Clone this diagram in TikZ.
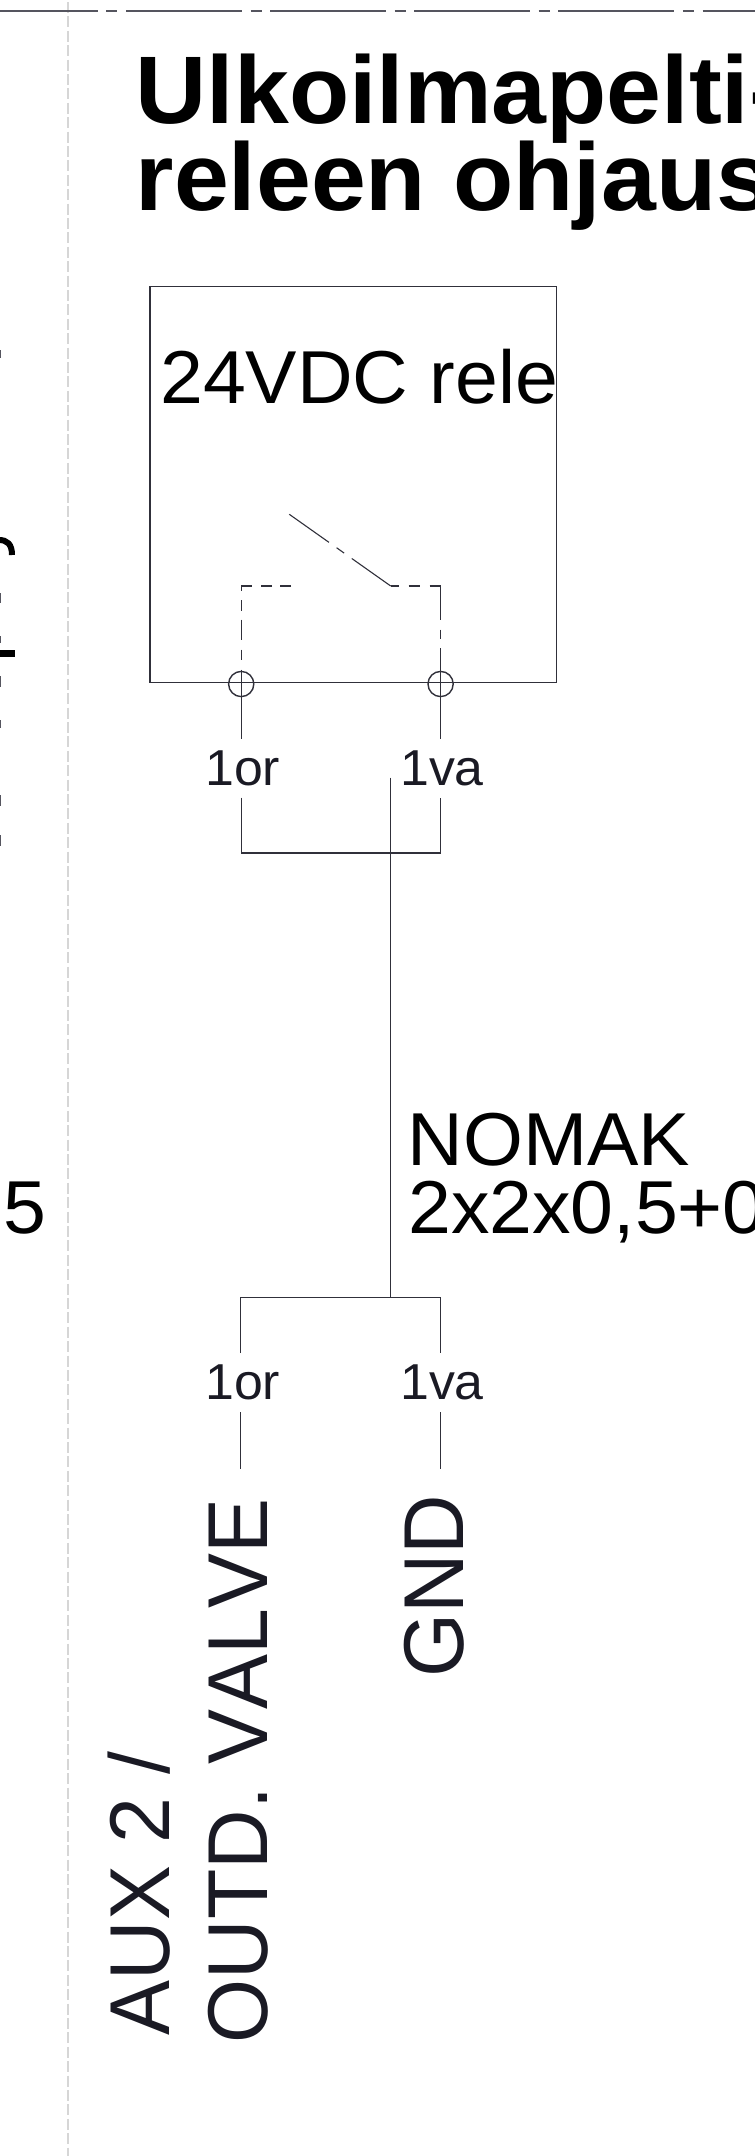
\documentclass[tikz,border=0pt]{standalone}
\usepackage{fontspec}
\setmainfont[Kerning=Off,FakeStretch=1.027]{Liberation Sans}
\newfontfamily\sidefont[Kerning=Off,FakeStretch=0.969]{Liberation Sans}
\definecolor{wire}{HTML}{30303A}
\definecolor{ink}{HTML}{1A1A24}
\definecolor{guide}{HTML}{D6D6D6}
\definecolor{topline}{HTML}{55555F}
\newcommand{\fs}[1]{\fontsize{#1}{#1}\selectfont}
\tikzset{
  x=1pt,y=-1pt,
  wireline/.style={draw=wire,line width=1.3pt},
  thin wire/.style={draw=wire,line width=1.1pt},
  titletext/.style={anchor=base west,inner sep=0pt,text=black,font=\fs{96}\bfseries},
  bigtext/.style={anchor=base west,inner sep=0pt,text=black,font=\fs{75}},
  labeltext/.style={anchor=base west,inner sep=0pt,text=ink,font=\fs{50.5}},
  sidetext/.style={anchor=base west,inner sep=0pt,text=ink,font=\sidefont\fs{85},rotate=90},
  terminal/.style={circle,draw=wire,line width=1.4pt,minimum size=25.2pt,inner sep=0pt},
  clipped/.style={fill=black,draw=none},
}
\begin{document}
\begin{tikzpicture}
\useasboundingbox (0,0) rectangle (755,2156);
\clip (0,0) rectangle (755,2156);
% sheet guides
\coordinate (gT) at (68.2,2);
\coordinate (gB) at (68.2,2156);
\draw[guide,line width=1.8pt,dash pattern=on 11pt off 3.4pt] (gT) -- (gB);
\coordinate (tL) at (-18,10.7);
\coordinate (tR) at (755,10.7);
\draw[topline,line width=1.7pt,dash pattern=on 115.7pt off 8.7pt on 11pt off 8.7pt] (tL) -- (tR);
% clipped neighbour text at the left edge
\fill[clipped] (0,650) rectangle (14.7,657);
\draw[black,line width=6pt] (-1,540) .. controls (7,540) and (12,544) .. (12,555);
\foreach \a/\b in {350/358,593/603,636/643,676/687,720/728,795/806,835/846}
  \fill[topline] (0,\a) rectangle (1.2,\b);
\node[bigtext] (five) at (3.5,1233) {5};
% title
\node[titletext] (title1) at (135.5,123.3) {Ulkoilmapelti-};
\node[titletext] (title2) at (135.5,210.7) {releen ohjaus};
% relay
\node[draw=wire,line width=1.4pt,minimum width=406.7pt,minimum height=396.3pt,inner sep=0pt,anchor=north west] (relay) at (149.3,285.7) {};
\node[bigtext] (relaytxt) at (160,403) {24VDC rele};
\node[terminal] (t1) at (241.2,684) {};
\node[terminal] (t2) at (440.6,684) {};
% switch
\coordinate (armA) at (289.3,514.3);
\coordinate (armB) at (390.7,586);
\coordinate (conL) at (291,586);
\coordinate (cornL) at (241.2,586);
\coordinate (cornR) at (440.6,586);
\coordinate (wL1) at (241.2,739);
\coordinate (wR1) at (440.6,739);
\draw[thin wire,dash pattern=on 48.6pt off 9.3pt on 9.3pt off 9.3pt on 60pt] (armA) -- (armB);
\draw[wireline,dash pattern=on 11pt off 8pt on 11.5pt off 9pt on 15.5pt off 9pt on 10.7pt off 8.6pt on 20.7pt off 9.3pt on 10.7pt off 9.3pt on 100pt off 1pt] (conL) -- (cornL) -- (wL1);
\draw[wireline,dash pattern=on 8.5pt off 9.5pt on 11.5pt off 9.5pt on 44.5pt off 10pt on 9.7pt off 8.7pt on 120pt off 1pt] (armB) -- (cornR) -- (wR1);
% upper labels and bridge
\node[labeltext] (or1) at (205,785) {1or};
\node[labeltext] (va1) at (400,785) {1va};
\coordinate (bL0) at (241.2,797.5);
\coordinate (bL1) at (241.2,853);
\coordinate (bR0) at (440.6,797.5);
\coordinate (bR1) at (440.6,853);
\draw[wireline] (bL0) -- (bL1) -- (bR1) -- (bR0);
% cable
\coordinate (cT) at (390.7,777.6);
\coordinate (cB) at (390.7,1297.7);
\draw[wireline] (cT) -- (cB);
\node[bigtext] (nomak) at (407.5,1165) {NOMAK};
\node[bigtext] (spec) at (408,1233) {2x2x0,5+0};
% lower bridge and labels
\coordinate (dL0) at (240.8,1353);
\coordinate (dL1) at (240.8,1297.7);
\coordinate (dR0) at (440.6,1353);
\coordinate (dR1) at (440.6,1297.7);
\draw[wireline] (dL0) -- (dL1) -- (dR1) -- (dR0);
\node[labeltext] (or2) at (205,1399) {1or};
\node[labeltext] (va2) at (400,1399) {1va};
\coordinate (eL0) at (240.8,1412);
\coordinate (eL1) at (240.8,1469);
\coordinate (eR0) at (440.6,1412);
\coordinate (eR1) at (440.6,1469);
\draw[wireline] (eL0) -- (eL1);
\draw[wireline] (eR0) -- (eR1);
% rotated signal names
\node[sidetext] (aux) at (169.5,2035.5) {AUX 2 /};
\node[sidetext] (outd) at (267.5,2043.5) {OUTD. VALVE};
\node[sidetext] (gnd) at (463.5,1678) {GND};
\end{tikzpicture}
\end{document}
